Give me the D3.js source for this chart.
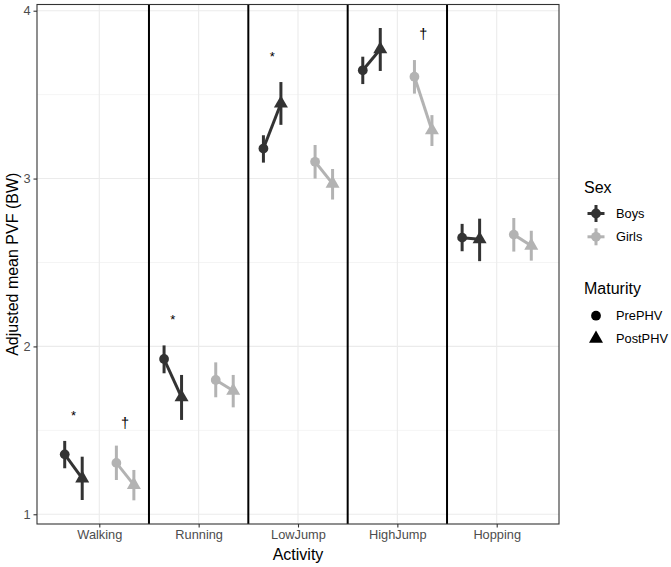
<!DOCTYPE html>
<html>
<head>
<meta charset="utf-8">
<script src="https://cdn.jsdelivr.net/npm/d3@7"></script>
<style>
  body { margin: 0; background: #fff; }
  text { font-family: "Liberation Sans", Arial, sans-serif; }
</style>
</head>
<body>
<svg id="chart" width="671" height="567"></svg>
<script>
// chart data
var activities = ["Walking", "Running", "LowJump", "HighJump", "Hopping"];
var sexes = ["Boys", "Girls"];
var maturities = ["PrePHV", "PostPHV"];
var yTicks = [1, 2, 3, 4];

// means per activity, [PrePHV, PostPHV]
var boysMean  = [[1.357, 1.214], [1.925, 1.697], [3.179, 3.447], [3.645, 3.770], [2.648, 2.638]];
var girlsMean = [[1.306, 1.175], [1.800, 1.736], [3.100, 2.970], [3.607, 3.288], [2.666, 2.600]];
var boysLow   = [[1.274, 1.085], [1.840, 1.562], [3.095, 3.320], [3.563, 3.641], [2.567, 2.508]];
var boysHigh  = [[1.437, 1.343], [2.006, 1.830], [3.258, 3.575], [3.726, 3.897], [2.730, 2.761]];
var girlsLow  = [[1.204, 1.083], [1.697, 1.637], [3.000, 2.875], [3.506, 3.194], [2.565, 2.511]];
var girlsHigh = [[1.409, 1.264], [1.905, 1.830], [3.200, 3.057], [3.706, 3.378], [2.765, 2.689]];

// significance marks
var marks = [
  {activity: "Walking",  sex: "Boys",  label: "*", y: 1.609},
  {activity: "Walking",  sex: "Girls", label: "\u2020", y: 1.542},
  {activity: "Running",  sex: "Boys",  label: "*", y: 2.18},
  {activity: "LowJump",  sex: "Boys",  label: "*", y: 3.746},
  {activity: "HighJump", sex: "Girls", label: "\u2020", y: 3.855}
];

var colors = {Boys: "#333333", Girls: "#b3b3b3"};

var svg = d3.select("#chart");
var pLeft = 37, pRight = 559, pTop = 4.5, pBottom = 524;

var x = d3.scalePoint().domain(activities).range([pLeft, pRight]).padding(0.627);
var y = d3.scaleLinear().domain([0.942, 4.037]).range([pBottom, pTop]);
var step = x.step();

var sexOffset = {Boys: -0.26, Girls: 0.26};
var matOffset = {PrePHV: -0.088, PostPHV: 0.088};

function px(a, s, m) {
  return x(a) + step * (sexOffset[s] + (m ? matOffset[m] : 0));
}

// flatten data
var rows = [];
activities.forEach(function(a, i) {
  maturities.forEach(function(m, j) {
    rows.push({activity: a, sex: "Boys", mat: m, mean: boysMean[i][j], lo: boysLow[i][j], hi: boysHigh[i][j]});
    rows.push({activity: a, sex: "Girls", mat: m, mean: girlsMean[i][j], lo: girlsLow[i][j], hi: girlsHigh[i][j]});
  });
});

// panel background + grid
svg.append("rect").attr("x", pLeft).attr("y", pTop).attr("width", pRight - pLeft).attr("height", pBottom - pTop).attr("fill", "#fff");

var grid = svg.append("g");
[1.5, 2.5, 3.5].forEach(function(v) {
  grid.append("line").attr("x1", pLeft).attr("x2", pRight).attr("y1", y(v)).attr("y2", y(v))
    .attr("stroke", "#ebebeb").attr("stroke-width", 0.55);
});
yTicks.forEach(function(v) {
  grid.append("line").attr("x1", pLeft).attr("x2", pRight).attr("y1", y(v)).attr("y2", y(v))
    .attr("stroke", "#ebebeb").attr("stroke-width", 1.1);
});
activities.forEach(function(a) {
  grid.append("line").attr("x1", x(a)).attr("x2", x(a)).attr("y1", pTop).attr("y2", pBottom)
    .attr("stroke", "#ebebeb").attr("stroke-width", 1.1);
});

// separators between activities
activities.slice(1).forEach(function(a) {
  var sx = x(a) - step / 2;
  svg.append("line").attr("x1", sx).attr("x2", sx).attr("y1", pTop).attr("y2", pBottom)
    .attr("stroke", "#000").attr("stroke-width", 2);
});

var plot = svg.append("g");

// error bars
plot.selectAll(".err").data(rows).enter().append("line")
  .attr("x1", function(d) { return px(d.activity, d.sex, d.mat); })
  .attr("x2", function(d) { return px(d.activity, d.sex, d.mat); })
  .attr("y1", function(d) { return y(d.lo); })
  .attr("y2", function(d) { return y(d.hi); })
  .attr("stroke", function(d) { return colors[d.sex]; })
  .attr("stroke-width", 3);

// connecting lines
activities.forEach(function(a) {
  sexes.forEach(function(s) {
    var pts = rows.filter(function(d) { return d.activity == a && d.sex == s; });
    plot.append("path")
      .attr("d", d3.line()
        .x(function(d) { return px(d.activity, d.sex, d.mat); })
        .y(function(d) { return y(d.mean); })(pts))
      .attr("fill", "none")
      .attr("stroke", colors[s])
      .attr("stroke-width", 3);
  });
});

// points
var circle = d3.symbol().type(d3.symbolCircle).size(75);
var tri = d3.symbol().type(d3.symbolTriangle).size(85);
plot.selectAll(".pt").data(rows).enter().append("path")
  .attr("transform", function(d) { return "translate(" + px(d.activity, d.sex, d.mat) + "," + y(d.mean) + ")"; })
  .attr("d", function(d) { return d.mat == "PrePHV" ? circle() : tri(); })
  .attr("fill", function(d) { return colors[d.sex]; });

// significance marks (y = glyph centre)
svg.selectAll(".mark").data(marks).enter().append("text")
  .attr("x", function(d) { return px(d.activity, d.sex); })
  .attr("y", function(d) { return y(d.y); })
  .attr("dy", function(d) { return d.label == "*" ? "0.6em" : "0.3em"; })
  .attr("text-anchor", "middle")
  .attr("font-size", function(d) { return d.label == "*" ? 13 : 14.5; })
  .attr("fill", "#000")
  .text(function(d) { return d.label; });

// panel border
svg.append("rect").attr("x", pLeft).attr("y", pTop).attr("width", pRight - pLeft).attr("height", pBottom - pTop)
  .attr("fill", "none").attr("stroke", "#333").attr("stroke-width", 1.1);

// axes
var xAxis = svg.append("g").attr("transform", "translate(0," + pBottom + ")")
  .call(d3.axisBottom(x).tickSize(3.5).tickPadding(2));
var yAxis = svg.append("g").attr("transform", "translate(" + pLeft + ",0)")
  .call(d3.axisLeft(y).tickValues(yTicks).tickFormat(d3.format("d")).tickSize(3.5).tickPadding(3));
[xAxis, yAxis].forEach(function(g) {
  g.select(".domain").remove();
  g.selectAll(".tick line").attr("stroke", "#333").attr("stroke-width", 1.1);
  g.selectAll(".tick text").attr("fill", "#4d4d4d").attr("font-size", 12.8)
    .attr("font-family", "Liberation Sans, Arial, sans-serif");
});

// axis titles
svg.append("text").attr("x", (pLeft + pRight) / 2).attr("y", 560).attr("text-anchor", "middle")
  .attr("font-size", 16).attr("fill", "#000").text("Activity");
svg.append("text").attr("transform", "translate(18," + ((pTop + pBottom) / 2) + ") rotate(-90)")
  .attr("text-anchor", "middle").attr("font-size", 16).attr("fill", "#000").text("Adjusted mean PVF (BW)");

// legends
var leg = svg.append("g");
leg.append("text").attr("x", 584).attr("y", 192.5).attr("font-size", 16).text("Sex");
sexes.forEach(function(s, i) {
  var cy = 213.5 + i * 23.3, cx = 596;
  leg.append("line").attr("x1", cx - 8.5).attr("x2", cx + 8.5).attr("y1", cy).attr("y2", cy)
    .attr("stroke", colors[s]).attr("stroke-width", 3);
  leg.append("line").attr("x1", cx).attr("x2", cx).attr("y1", cy - 8.5).attr("y2", cy + 8.5)
    .attr("stroke", colors[s]).attr("stroke-width", 3);
  leg.append("path").attr("transform", "translate(" + cx + "," + cy + ")").attr("d", circle()).attr("fill", colors[s]);
  leg.append("text").attr("x", 616).attr("y", cy).attr("dy", "0.35em").attr("font-size", 12.8).text(s);
});
leg.append("text").attr("x", 584).attr("y", 294).attr("font-size", 16).text("Maturity");
maturities.forEach(function(m, i) {
  var cy = 315.7 + i * 23, cx = 596;
  leg.append("path").attr("transform", "translate(" + cx + "," + cy + ")")
    .attr("d", m == "PrePHV" ? circle() : tri()).attr("fill", "#000");
  leg.append("text").attr("x", 616).attr("y", cy).attr("dy", "0.35em").attr("font-size", 12.8).text(m);
});
</script>
</body>
</html>
